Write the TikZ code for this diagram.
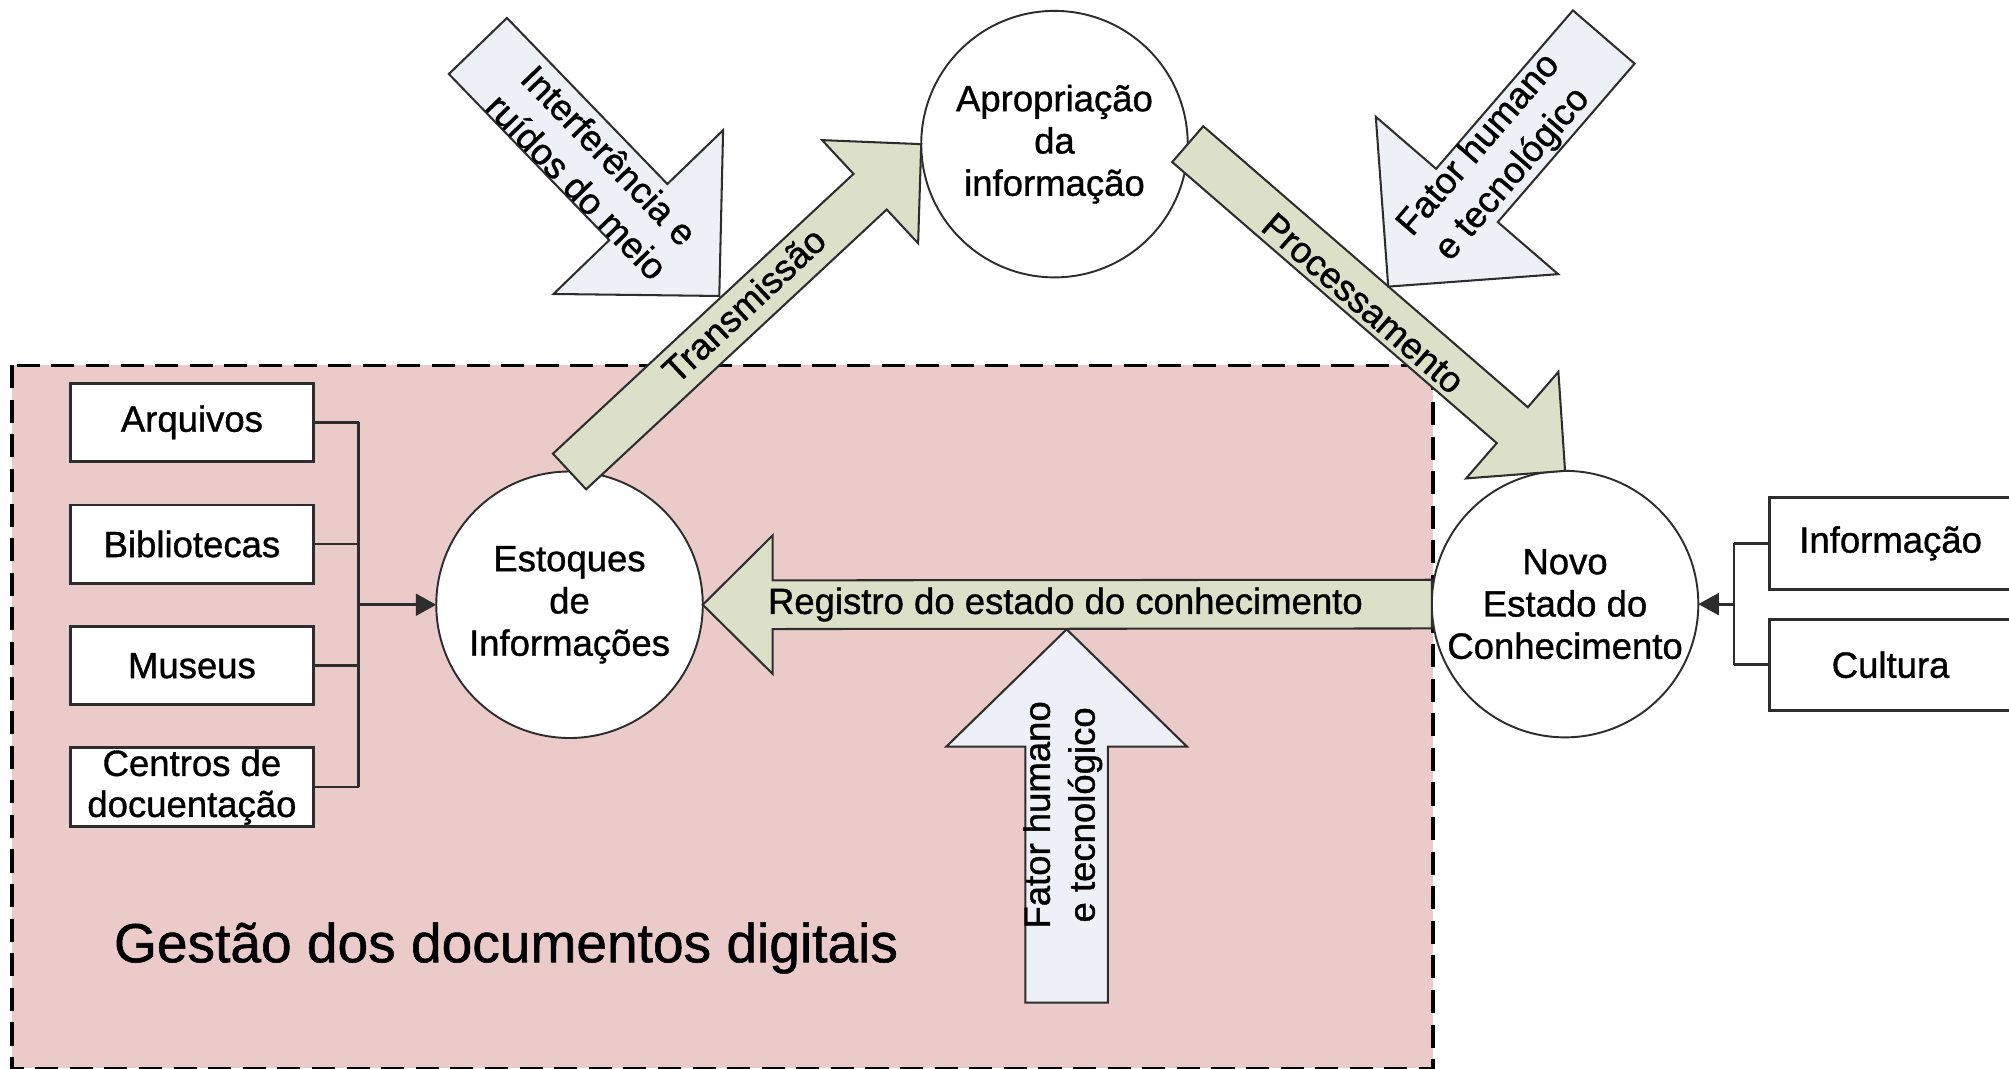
\documentclass[tikz,border=0pt]{standalone}
\usepackage{fontspec}
\setmainfont{Liberation Sans}[FakeBold=1.0,AutoFakeBold=1.0]
\usetikzlibrary{calc,arrows.meta}
\definecolor{pinkbg}{RGB}{235,203,202}
\definecolor{greenar}{RGB}{221,224,200}
\definecolor{bluear}{RGB}{237,241,247}
\definecolor{edge}{RGB}{45,45,45}
% #1 style, #2 tail, #3 tip, #4 shaft half width, #5 head half width, #6 head length
\newcommand{\blockarrow}[6]{%
  \coordinate (BAb) at ($(#3)!#6!(#2)$);
  \draw[#1] ($(#2)!#4!90:(#3)$) -- ($(BAb)!#4!-90:(#2)$) -- ($(BAb)!#5!-90:(#2)$)
    -- (#3) -- ($(BAb)!#5!90:(#2)$) -- ($(BAb)!#4!90:(#2)$) -- ($(#2)!#4!-90:(#3)$) -- cycle;
}
\begin{document}
\begin{tikzpicture}[x=1pt,y=-1pt,
  every node/.style={font=\fontsize{28.5}{33}\selectfont\bfseries, inner sep=0pt, outer sep=0pt},
  circ/.style={circle, draw=edge, line width=1.5pt, fill=white, minimum size=208pt, align=center},
  boxn/.style={rectangle, draw=edge, line width=2.2pt, fill=white, minimum width=189.6pt, align=center},
  conn/.style={draw=edge, line width=2.2pt},
  greenarrow/.style={draw=edge, line width=1.6pt, fill=greenar, line join=miter},
  bluearrow/.style={draw=edge, line width=1.6pt, fill=bluear, line join=miter},
  lbl/.style={align=center},
  lbl2/.style={align=center, font=\fontsize{28.5}{35}\selectfont\bfseries}]

\useasboundingbox (0,0) rectangle (1568,834);
\clip (0,0) rectangle (1568,834);
\fill[white] (0,0) rectangle (1568,834);

% region
\draw[fill=pinkbg, draw=black, line width=2.5pt, dash pattern=on 18pt off 9pt] (9.3,285) rectangle (1118.4,833.8);
\node[font=\fontsize{43}{50}\selectfont\bfseries, anchor=base west] (titulo) at (89,751) {Gestão dos documentos digitais};

% circles
\node[circ] (est) at (444.5,472) {Estoques\\de\\Informações};
\node[circ] (apr) at (823,112.5) {Apropriação\\da\\informação};
\node[circ] (nov) at (1221.5,471.5) {Novo\\Estado do\\Conhecimento};

% left boxes
\node[boxn, minimum height=61pt] (arq) at (149.8,329.6) {Arquivos};
\node[boxn, minimum height=61pt] (bib) at (149.8,424.6) {Bibliotecas};
\node[boxn, minimum height=61pt] (mus) at (149.8,519.6) {Museus};
\node[boxn, minimum height=61.5pt, font=\fontsize{28.5}{32}\selectfont\bfseries] (cen) at (149.8,614.3) {Centros de\\docuentação};

\coordinate (busL) at (280,472);
\draw[conn] (arq.east) -- (arq.east -| busL);
\draw[conn] (bib.east) -- (bib.east -| busL);
\draw[conn] (mus.east) -- (mus.east -| busL);
\draw[conn] (cen.east) -- (cen.east -| busL);
\draw[conn] (arq.east -| busL) -- (cen.east -| busL);
\draw[conn, -{Triangle[length=16pt,width=17pt]}] (busL) -- (est.west);

% right boxes
\node[boxn, minimum height=72pt] (inf) at (1475.6,424) {Informação};
\node[boxn, minimum height=71pt] (cul) at (1475.6,518.8) {Cultura};
\coordinate (busR) at (1353.3,471.5);
\draw[conn] (inf.west) -- (inf.west -| busR);
\draw[conn] (cul.west) -- (cul.west -| busR);
\draw[conn] (inf.west -| busR) -- (cul.west -| busR);
\draw[conn, -{Triangle[length=16pt,width=17pt]}] (busR) -- (nov.east);

% green process arrows
\blockarrow{greenarrow}{est.north}{apr.west}{19pt}{55pt}{54.5pt}
\blockarrow{greenarrow}{apr.east}{nov.north}{18.5pt}{55pt}{54.5pt}
\blockarrow{greenarrow}{nov.west}{est.east}{19pt}{54pt}{54.5pt}

% blue influence arrows
\coordinate (intT) at (373,35.9);
\coordinate (intP) at (561.4,231);
\blockarrow{bluearrow}{intT}{intP}{31.5pt}{92pt}{91pt}
\coordinate (fhT) at (1251.7,28.9);
\coordinate (fhP) at (1083.5,223.7);
\blockarrow{bluearrow}{fhT}{fhP}{31.8pt}{94pt}{94pt}
\coordinate (fbT) at (832.5,782.5);
\coordinate (fbP) at (832.5,491.2);
\blockarrow{bluearrow}{fbT}{fbP}{32.2pt}{93.9pt}{91.5pt}

% labels
\node[lbl, rotate=43.1] (lt) at (580.5,238) {Transmissão};
\node[lbl, rotate=-41] (lp) at (1064,236.7) {Processamento};
\node[lbl] (lr) at (831.5,471.8) {Registro do estado do conhecimento};
\node[lbl2, rotate=-46] (li) at (463,133.4) {Interferência e\\ruídos do meio};
\node[lbl2, rotate=49.2] (lf1) at (1167.8,124.9) {Fator humano\\e tecnológico};
\node[lbl2, rotate=90] (lf2) at (829.5,636) {Fator humano\\e tecnológico};
\end{tikzpicture}
\end{document}
